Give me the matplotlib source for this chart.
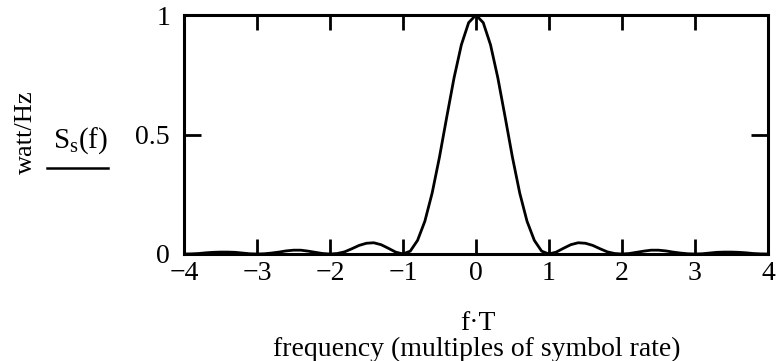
import numpy as np
import matplotlib
matplotlib.use("Agg")
import matplotlib.pyplot as plt

# f*T from 0 to 4 in steps of 0.1 (curve is symmetric about 0)
ft_half = [round(0.1 * i, 1) for i in range(41)]
ss_half = [1.0, 0.968, 0.875, 0.737, 0.573, 0.405, 0.255, 0.137, 0.057, 0.012,
           0.0, 0.008, 0.024, 0.039, 0.047, 0.045, 0.036, 0.022, 0.009, 0.002,
           0.0, 0.002, 0.007, 0.012, 0.016, 0.016, 0.013, 0.008, 0.004, 0.001,
           0.0, 0.001, 0.004, 0.007, 0.008, 0.008, 0.007, 0.005, 0.002, 0.0005,
           0.0]
x_ticks = [-4, -3, -2, -1, 0, 1, 2, 3, 4]
y_ticks = [0, 0.5, 1]
y_tick_labels = ["0", "0.5", "1"]

ft = [-v for v in ft_half[:0:-1]] + ft_half
ss = ss_half[:0:-1] + ss_half

plt.rcParams['font.family'] = ['Liberation Serif', 'DejaVu Serif']

fig = plt.figure(figsize=(7.78, 3.61), dpi=100)
ax = fig.add_axes([0.2365, 0.2964, 0.7505, 0.662])
ax.plot(ft, ss, color='black', linewidth=2.0)

ax.set_xlim(-4, 4)
ax.set_ylim(0, 1)
ax.set_xticks(x_ticks)
ax.set_xticklabels(["\u2212" + str(-t) if t < 0 else str(t) for t in x_ticks])
ax.set_yticks(y_ticks)
ax.set_yticklabels(y_tick_labels)
for sp in ax.spines.values():
    sp.set_linewidth(2.2)
ax.tick_params(axis='x', direction='in', length=11, width=2, top=True,
               labelsize=20, pad=5)
ax.tick_params(axis='y', direction='in', length=12, width=2, right=True,
               labelsize=20, pad=10)

fig.text(0.033, 0.634, "watt/Hz", rotation=90, ha='center', va='center', fontsize=19)
fig.text(0.104, 0.61, r"S$_{\mathregular{s}}$(f)", ha='center', va='center', fontsize=21)
fig.add_artist(plt.Line2D([0.061, 0.139], [0.535, 0.535], color='black', linewidth=1.8,
                          transform=fig.transFigure))
fig.text(0.614, 0.103, "f\u00b7T", ha='center', va='center', fontsize=20)
fig.text(0.613, 0.032, "frequency (multiples of symbol rate)", ha='center', va='center', fontsize=20)

fig.savefig("out.png", dpi=100)
